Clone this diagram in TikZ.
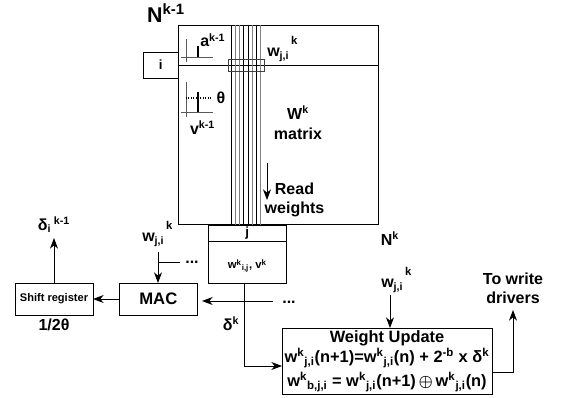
\documentclass[tikz,border=0pt]{standalone}
\usepackage{fontspec}
\setmainfont{Liberation Sans}
\usepackage{amsmath,amssymb}
\usetikzlibrary{arrows.meta, positioning, calc}
\newcommand{\up}[1]{\textsuperscript{#1}}
\newcommand{\dn}[1]{\textsubscript{#1}}
\newcommand{\wji}{w\dn{j,i}\raisebox{1.5ex}{\fontsize{8.5}{10}\selectfont\,k}}
\newcommand{\fsz}[1]{\fontsize{#1}{14}\selectfont}
\tikzset{
  block/.style={draw, line width=0.6pt, inner sep=0pt, outer sep=0pt, font=\bfseries},
  lab/.style={inner sep=0pt, font=\bfseries\fsz{12}},
  conn/.style={line width=0.7pt, -{Stealth[length=8pt,width=6pt,inset=2.5pt]}}
}
\begin{document}
\begin{tikzpicture}[x=0.75pt, y=-0.75pt, font=\bfseries]
  \useasboundingbox (0,0) rectangle (567,398);
  %--- weight matrix and its row/column drivers ---
  \node[block, anchor=north west, minimum width=150pt, minimum height=149.5pt] (wmat) at (178,25.5) {};
  \node[block, anchor=north east, minimum width=26pt, minimum height=19.5pt] (rowi) at (wmat.west |- 0,52) {i};
  \node[block, anchor=north west, minimum width=59pt, minimum height=12pt] (colj) at (208,225) {j};
  \node[block, anchor=north west, minimum width=59pt, minimum height=31.5pt] (rdout) at (colj.south west) {};
  \draw[line width=0.6pt] (178,65) -- (378,65);
  % bit lines
  \foreach \x/\c in {231/black, 235/gray, 239/gray, 243/black, 248/black, 252/gray, 256/black, 260/gray}
    \draw[\c, line width=0.6pt] (\x,25.5) -- (\x,225);
  \draw[line width=0.6pt, black!75] (228,59) rectangle (264,71);
  % neuron curves
  \draw[gray!70!black, line width=0.6pt] (186,39) -- (186,62) (181,57) -- (213,57);
  \draw[line width=1.6pt] (198,57) -- (198,46);
  \draw[gray!70!black, line width=0.6pt] (186,82) -- (186,117) (181,112) -- (213,112);
  \draw[line width=1.6pt] (198,112) -- (198,92);
  \draw[densely dotted, line width=0.8pt] (186,98) -- (212,98);
  %--- matrix labels ---
  \node[lab, font=\bfseries\fsz{16}] (nrow) at (166,13) {N\up{k-1}};
  \node[lab, anchor=base west] (alab) at (200,47) {a\up{k-1}};
  \node[lab, anchor=base west] (wsel) at (267,57) {\wji};
  \node[lab] (theta) at (221,98) {θ};
  \node[lab] (vlab) at (202.5,128) {v\up{k-1}};
  \node[lab] (wlab) at (298,113) {W\up{k}};
  \node[lab] (mlab) at (298,134) {matrix};
  \node[lab, align=center] (rlab) at (294.5,200) {Read\\weights};
  \coordinate (rtop) at (267,163);
  \coordinate (rbot) at (267,200);
  \draw[conn] (rtop) -- (rbot);
  \node[lab] (ncol) at (390,239) {N\up{k}};
  \node[lab, font=\bfseries\fsz{8.5}] (rdlab) at (rdout.center) [yshift=-3pt] {w\up{k}\dn{i,j}, v\up{k}};
  %--- read path ---
  \node[block, anchor=north west, minimum width=59pt, minimum height=24pt, font=\bfseries\fsz{12.5}] (mac) at (119,283) {MAC};
  \node[block, anchor=north west, minimum width=58.5pt, minimum height=24pt, font=\bfseries\fsz{8.3}] (shift) at (15,283) {Shift register};
  \node[lab] (halfth) at (54,325) {1/2θ};
  \node[lab] (dout) at (54,225) {δ\dn{i}\,\up{k-1}};
  \node[lab, anchor=base west] (wmac) at (142,242) {\wji};
  \node[lab] (dk) at (231,324) {δ\up{k}};
  \node[lab] (dotsa) at (192,262) {...};
  \node[lab] (dotsb) at (289,302) {...};
  \coordinate (wmtop) at (158,252);
  \coordinate (tap) at (158,262);
  \coordinate (tapend) at (180,262);
  \coordinate (bus) at (244,301);
  \coordinate (busend) at (273,301);
  \coordinate (macin) at (202,301);
  \coordinate (dtop) at (54,238);
  \draw[conn] (wmtop) -- (mac.north -| wmtop);
  \draw[line width=0.7pt] (tap) -- (tapend);
  \draw[conn] (mac.west |- 0,299) -- (shift.east |- 0,299);
  \draw[conn] (shift.north -| dtop) -- (dtop);
  \draw[line width=0.7pt] (busend) -- (bus);
  \draw[conn] (bus) -- (macin);
  %--- weight update ---
  \node[block, anchor=north west, minimum width=157.5pt, minimum height=50pt, align=center, font=\bfseries\fsz{12.3}] (upd) at (282,328) {Weight Update\\[1pt]
    w\up{k}\dn{j,i}(n+1)=w\up{k}\dn{j,i}(n) + 2\up{-b} x δ\up{k}\\[2.5pt]
    w\up{k}\dn{b,j,i} = w\up{k}\dn{j,i}(n+1)\,$\boldsymbol{\oplus}$\,w\up{k}\dn{j,i}(n)};
  \node[lab, anchor=base west] (wupd) at (381,288) {\wji};
  \node[lab, align=center] (wdrv) at (513,288) {To write\\drivers};
  \coordinate (wupdtail) at (390,295);
  \coordinate (wdrvtip) at (513,310);
  \coordinate (updout) at (492,372);
  \draw[conn] (wupdtail) -- (upd.north -| wupdtail);
  \draw[conn] (rdout.south -| bus) -- (bus |- 0,366) -- (upd.west |- 0,366);
  \draw[conn] (updout) -| (wdrvtip);
\end{tikzpicture}
\end{document}
